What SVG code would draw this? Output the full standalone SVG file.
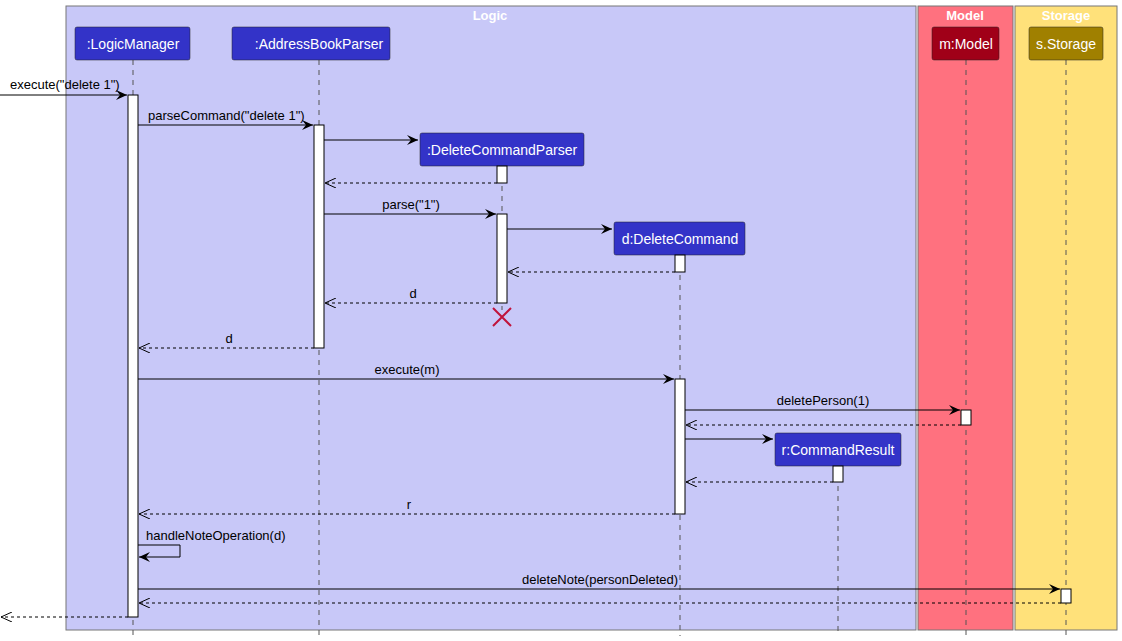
<svg xmlns="http://www.w3.org/2000/svg" width="1122" height="641" viewBox="0 0 1122 641">
<style>
text{font-family:"Liberation Sans",Arial,sans-serif;font-size:13px;fill:#000}
.pt{fill:#fff;font-size:14px;text-anchor:middle}
.ttl{fill:#fff;font-size:13px;font-weight:bold;text-anchor:middle}
.lbl{text-anchor:middle}
.life{stroke:#555;stroke-dasharray:5,5;stroke-width:1}
.act{fill:#fff;stroke:#000;stroke-width:1}
.m{stroke:#000;stroke-width:1;fill:none;marker-end:url(#a)}
.r{stroke:#000;stroke-width:1;fill:none;stroke-dasharray:3,3;marker-end:url(#o)}
.box{stroke:#222;stroke-width:0.5;rx:2}
</style>
<defs>
<marker id="a" markerWidth="12" markerHeight="10" refX="11" refY="5" orient="auto" markerUnits="userSpaceOnUse"><path d="M0,0 L11,5 L0,10 L4,5 Z" fill="#000"/></marker>
<marker id="o" markerWidth="12" markerHeight="10" refX="11" refY="5" orient="auto" markerUnits="userSpaceOnUse"><path d="M0,0 L11,5 L0,10" fill="none" stroke="#000"/></marker>
</defs>
<rect width="1122" height="641" fill="#fff"/>
<g id="boxes">
<rect x="66" y="6" width="850" height="624" fill="#c8c8f8" stroke="#777"/>
<text class="ttl" x="490" y="20">Logic</text>
<rect x="918" y="6" width="95" height="624" fill="#ff717f" stroke="#777"/>
<text class="ttl" x="965" y="20">Model</text>
<rect x="1015" y="6" width="102" height="624" fill="#ffe17a" stroke="#777"/>
<text class="ttl" x="1066" y="20">Storage</text>
</g>
<g id="lifelines">
<line class="life" x1="133" y1="60" x2="133" y2="636"/>
<line class="life" x1="319" y1="60" x2="319" y2="636"/>
<line class="life" x1="502" y1="166" x2="502" y2="310"/>
<line class="life" x1="680" y1="255" x2="680" y2="636"/>
<line class="life" x1="838" y1="466" x2="838" y2="636"/>
<line class="life" x1="966" y1="60" x2="966" y2="636"/>
<line class="life" x1="1066" y1="60" x2="1066" y2="636"/>
</g>
<g id="LogicManager"><rect class="box" x="75" y="27" width="115" height="33" fill="#3333c8"/><text class="pt" x="133" y="49">:LogicManager</text></g>
<g id="AddressBookParser"><rect class="box" x="232" y="27" width="158" height="33" fill="#3333c8"/><text class="pt" x="319" y="49">:AddressBookParser</text></g>
<g id="Model"><rect class="box" x="932" y="27" width="67" height="33" fill="#a00018"/><text class="pt" x="966" y="49">m:Model</text></g>
<g id="Storage"><rect class="box" x="1029" y="27" width="74" height="33" fill="#a08000"/><text class="pt" x="1066" y="49">s.Storage</text></g>
<g id="DeleteCommandParser"><rect class="box" x="420" y="133" width="164" height="33" fill="#3333c8"/><text class="pt" x="502" y="155">:DeleteCommandParser</text></g>
<g id="DeleteCommand"><rect class="box" x="614" y="222" width="131" height="33" fill="#3333c8"/><text class="pt" x="680" y="244">d:DeleteCommand</text></g>
<g id="CommandResult"><rect class="box" x="775" y="433" width="126" height="33" fill="#3333c8"/><text class="pt" x="838" y="455">r:CommandResult</text></g>
<g id="activations">
<rect class="act" x="128" y="95" width="10" height="522"/>
<rect class="act" x="314" y="125" width="10" height="223"/>
<rect class="act" x="497" y="166" width="10" height="17"/>
<rect class="act" x="497" y="214" width="10" height="89"/>
<rect class="act" x="675" y="255" width="10" height="17"/>
<rect class="act" x="675" y="379" width="10" height="135"/>
<rect class="act" x="961" y="410" width="10" height="15"/>
<rect class="act" x="833" y="466" width="10" height="16"/>
<rect class="act" x="1061" y="589" width="10" height="14"/>
<path d="M493,308 L511,326 M511,308 L493,326" stroke="#c0143c" stroke-width="2"/>
</g>
<g id="connectors">
<line class="m" x1="0" y1="95" x2="127" y2="95"/><text x="10" y="89">execute("delete 1")</text>
<line class="m" x1="138" y1="125" x2="313" y2="125"/><text x="148" y="120">parseCommand("delete 1")</text>
<line class="m" x1="324" y1="140" x2="418" y2="140"/>
<line class="r" x1="497" y1="183" x2="325" y2="183"/>
<line class="m" x1="324" y1="214" x2="496" y2="214"/><text class="lbl" x="411" y="209">parse("1")</text>
<line class="m" x1="507" y1="229" x2="612" y2="229"/>
<line class="r" x1="675" y1="272" x2="508" y2="272"/>
<line class="r" x1="497" y1="303" x2="325" y2="303"/><text class="lbl" x="413" y="298">d</text>
<line class="r" x1="314" y1="348" x2="139" y2="348"/><text class="lbl" x="229" y="343">d</text>
<line class="m" x1="138" y1="379" x2="674" y2="379"/><text class="lbl" x="407" y="374">execute(m)</text>
<line class="m" x1="685" y1="410" x2="960" y2="410"/><text class="lbl" x="823" y="405">deletePerson(1)</text>
<line class="r" x1="961" y1="425" x2="686" y2="425"/>
<line class="m" x1="685" y1="439" x2="773" y2="439"/>
<line class="r" x1="833" y1="482" x2="686" y2="482"/>
<line class="r" x1="675" y1="514" x2="139" y2="514"/><text class="lbl" x="409" y="509">r</text>
<path class="m" d="M138,545 H180 V557 H139"/><text x="146" y="540">handleNoteOperation(d)</text>
<line class="m" x1="138" y1="589" x2="1060" y2="589"/><text class="lbl" x="600" y="584">deleteNote(personDeleted)</text>
<line class="r" x1="1061" y1="603" x2="139" y2="603"/>
<line class="r" x1="128" y1="617" x2="1" y2="617"/>
</g>
</svg>
